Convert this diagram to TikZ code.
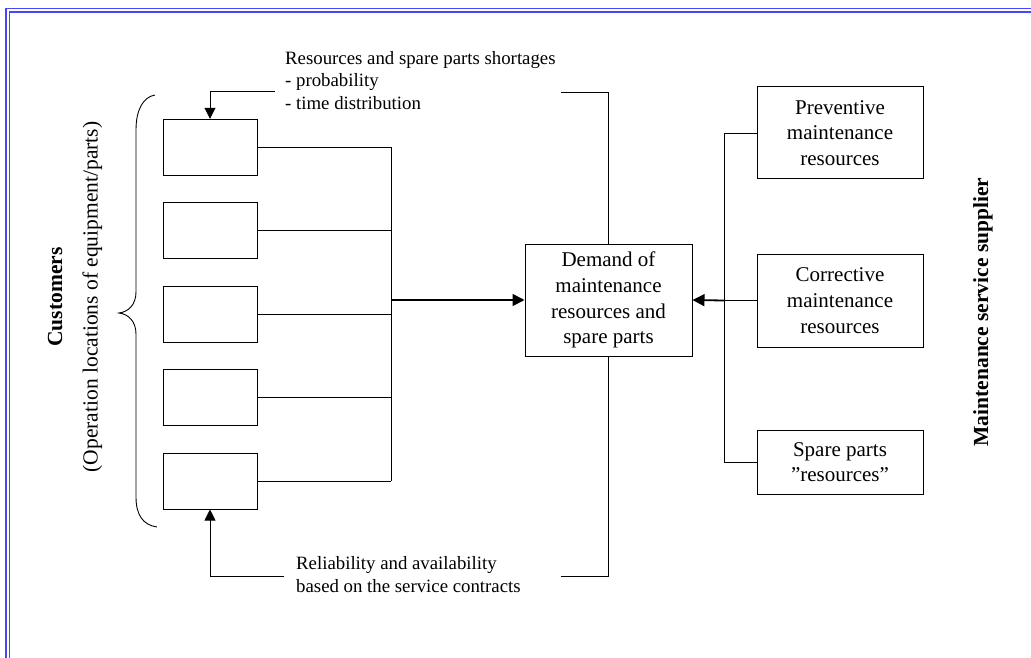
\documentclass[tikz,border=0pt]{standalone}
\usepackage{fontspec}
\setmainfont{Liberation Serif}
\usetikzlibrary{arrows.meta}
\newcommand\boxtextfont{\fontsize{21}{25.7}\selectfont}
\newcommand\notetextfont{\fontsize{18.8}{22.6}\selectfont}
\newcommand\sidetextfont{\fontsize{21.5}{25}\selectfont}
\definecolor{frameblue}{RGB}{70,70,255}
\begin{document}
\begin{tikzpicture}[x=1pt,y=-1pt,
  frame/.style={draw=frameblue, line width=1.1pt},
  box/.style={draw, line width=1pt, inner sep=0pt, align=center, font=\boxtextfont},
  cbox/.style={box, minimum width=94pt, minimum height=56pt},
  sbox/.style={box, minimum width=166pt},
  wire/.style={line width=0.9pt},
  feed/.style={line width=1.8pt, -{Triangle[length=12pt,width=12pt]}},
  hint/.style={line width=0.9pt, -{Triangle[length=11pt,width=11pt]}},
  notetext/.style={inner sep=0pt, align=left, font=\notetextfont},
  sidetext/.style={inner sep=0pt, rotate=90, anchor=base, font=\sidetextfont}
]
\useasboundingbox (0,0) rectangle (1031,658);
\clip (0,0) rectangle (1031,658);

% double blue page frame
\draw[frame] (6,8.5) rectangle (1080,700);
\draw[frame] (9.5,12) rectangle (1080,700);

% customer locations
\node[cbox] (c1) at (210,147.3) {};
\node[cbox] (c2) at (210,230.7) {};
\node[cbox] (c3) at (210,314.1) {};
\node[cbox] (c4) at (210,397.5) {};
\node[cbox] (c5) at (210,481)   {};

% central demand box
\node[box, minimum width=167pt, minimum height=112pt] (dem) at (608.5,300)
  {Demand of\\maintenance\\resources and\\spare parts};

% supplier resources
\node[sbox, minimum height=92pt] (prev) at (840,133)
  {Preventive\\maintenance\\resources};
\node[sbox, minimum height=93pt] (corr) at (840,300.5)
  {Corrective\\maintenance\\resources};
\node[sbox, minimum height=64pt] (spare) at (840,462)
  {Spare parts\\”resources”};

% collecting bus on the customer side
\coordinate (busL) at (391,0);
\foreach \c in {c1,c2,c3,c4,c5}
  \draw[wire] (\c.east) -- (\c.east -| busL);
\draw[wire] (c1.east -| busL) -- (c5.east -| busL);
\draw[feed] (dem.west -| busL) -- (dem.west);

% collecting bus on the supplier side
\coordinate (busR) at (724,0);
\draw[wire] (prev.west) -- (prev.west -| busR) -- (spare.west -| busR) -- (spare.west);
\draw[wire] (corr.west) -- (corr.west -| busR);
\draw[feed] (corr.west -| busR) -- (dem.east);

% brackets to the two notes
\coordinate (tk) at (561,92);
\coordinate (bk) at (561,576);
\draw[wire] (dem.north) -- (dem.north |- tk) -- (tk);
\draw[wire] (dem.south) -- (dem.south |- bk) -- (bk);

% note arrows into the first and last customer
\coordinate (ta) at (275,91.5);
\coordinate (ba) at (284,576);
\draw[hint] (ta) -- (ta -| c1.north) -- (c1.north);
\draw[hint] (ba) -- (ba -| c5.south) -- (c5.south);

% notes (base anchor sits on the last line)
\node[notetext, anchor=base west] (shortage) at (285,109.3)
  {Resources and spare parts shortages\\- probability\\- time distribution};
\node[notetext, anchor=base west] (reliab) at (296,592)
  {Reliability and availability\\based on the service contracts};

% curly brace around the customers
\draw[line width=0.9pt] (155,95) .. controls (143,97) and (136,110) .. (136,130)
  -- (136,292) .. controls (136,305) and (128,312) .. (119,313)
  .. controls (128,314) and (136,321) .. (136,334)
  -- (136,497) .. controls (136,515) and (143,525) .. (157,527);

% side labels
\node[sidetext] (cust) at (62,297) {\bfseries Customers};
\node[sidetext] (custsub) at (97.5,297) {(Operation locations of equipment/parts)};
\node[sidetext] (supp) at (988,312) {\bfseries Maintenance service supplier};
\end{tikzpicture}
\end{document}
